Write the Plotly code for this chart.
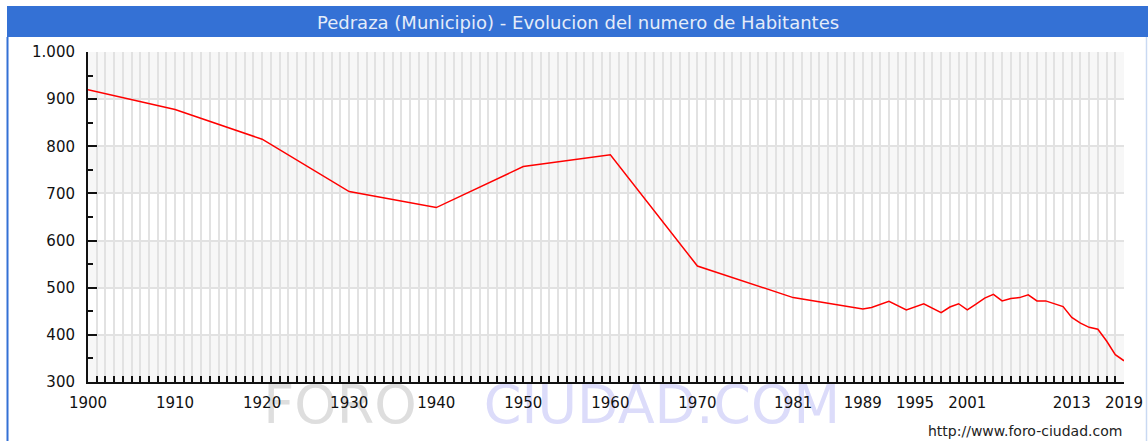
import plotly.graph_objects as go

# Datos
anios = [1900, 1910, 1920, 1930, 1940, 1950, 1960, 1970, 1981, 1986, 1989, 1990,
         1992, 1994, 1996, 1998, 1999, 2000, 2001, 2002, 2003, 2004, 2005, 2006,
         2007, 2008, 2009, 2010, 2011, 2012, 2013, 2014, 2015, 2016, 2017, 2018, 2019]
habitantes = [920, 878, 815, 704, 670, 757, 782, 546, 479, 464, 455, 458,
              471, 453, 466, 447, 459, 466, 453, 465, 478, 486, 472, 477,
              479, 485, 472, 472, 466, 460, 437, 425, 416, 412, 387, 358, 345]
etiquetas_x = [1900, 1910, 1920, 1930, 1940, 1950, 1960, 1970, 1981, 1989, 1995, 2001, 2013, 2019]

W, H = 1148, 441
ML, MR, MT, MB = 88, 24, 52, 59
AZUL = "#3471d5"
FUENTE = "DejaVu Sans, Verdana, sans-serif"


def px_x(p):
    return (p - ML) / (W - ML - MR)


def px_y(p):
    return (H - MB - p) / (H - MT - MB)


fig = go.Figure()
fig.add_trace(go.Scatter(
    x=anios, y=habitantes, mode="lines",
    line=dict(color="#ff0000", width=1.5),
    hoverinfo="x+y", showlegend=False
))

shapes = []
# bandas grises alternas del fondo
for y0 in range(300, 1000, 200):
    shapes.append(dict(type="rect", xref="paper", yref="y", x0=0, x1=1, y0=y0, y1=y0 + 100,
                       fillcolor="#f7f7f7", line=dict(width=0), layer="below"))
# marca de agua (debajo de las etiquetas)
for palabra, centro, ancho, color in [("FORO", 340, 220, "#dedede"),
                                      ("CIUDAD.COM", 662, 420, "#dcdcfa")]:
    shapes.append(dict(type="rect", xref="paper", yref="paper",
                       x0=px_x(centro - ancho / 2), x1=px_x(centro + ancho / 2),
                       y0=px_y(420), y1=px_y(380),
                       fillcolor="rgba(0,0,0,0)", line=dict(width=0), layer="below",
                       label=dict(text=palabra, textposition="middle center",
                                  font=dict(family=FUENTE, size=54, color=color))))
# barra de titulo y marco
shapes.append(dict(type="rect", xref="paper", yref="paper",
                   x0=px_x(7), x1=px_x(W), y0=px_y(37), y1=px_y(6),
                   fillcolor=AZUL, line=dict(width=0), layer="above"))
shapes.append(dict(type="line", xref="paper", yref="paper",
                   x0=px_x(7.5), x1=px_x(7.5), y0=px_y(37), y1=px_y(H),
                   line=dict(color=AZUL, width=2)))
shapes.append(dict(type="line", xref="paper", yref="paper",
                   x0=px_x(1146.5), x1=px_x(1146.5), y0=px_y(37), y1=px_y(H),
                   line=dict(color="#c9d9f2", width=1.5)))

fig.update_layout(
    width=W + 8, height=H, autosize=False,
    margin=dict(l=ML, r=MR + 8, t=MT, b=MB),
    paper_bgcolor="white", plot_bgcolor="white",
    separators=",.",
    shapes=shapes,
    font=dict(family=FUENTE, size=15, color="#111111"),
)

fig.update_xaxes(
    range=[1900, 2019],
    tickmode="array", tickvals=etiquetas_x, ticktext=[str(a) for a in etiquetas_x],
    ticks="inside", ticklen=6, tickwidth=2, tickcolor="#111111",
    showline=True, linecolor="#111111", linewidth=2,
    showgrid=True, gridcolor="#e2e2e2", gridwidth=2,
    minor=dict(tick0=1900, dtick=1, ticks="inside", ticklen=6, tickwidth=2,
               tickcolor="#111111", showgrid=True, gridcolor="#e2e2e2", gridwidth=2),
    ticklabelstandoff=6,
    zeroline=False,
)
fig.update_yaxes(
    range=[300, 1000], dtick=100, tick0=300, tickformat=",d",
    ticks="inside", ticklen=9, tickwidth=2, tickcolor="#111111",
    showline=True, linecolor="#111111", linewidth=2,
    showgrid=True, gridcolor="#e2e2e2", gridwidth=2,
    minor=dict(dtick=50, ticks="inside", ticklen=5, tickwidth=2,
               tickcolor="#111111", showgrid=False),
    ticklabelstandoff=8,
    zeroline=False,
)

anotaciones = [
    dict(text="Pedraza (Municipio) - Evolucion del numero de Habitantes",
         xref="paper", yref="paper", x=px_x(578), y=px_y(22),
         xanchor="center", yanchor="middle", showarrow=False,
         font=dict(family=FUENTE, size=18, color="#e4ecf9")),
    dict(text="http://www.foro-ciudad.com", xref="paper", yref="paper",
         x=px_x(1124), y=px_y(431), xanchor="right", yanchor="middle", showarrow=False,
         font=dict(family=FUENTE, size=14, color="#222222")),
]
fig.update_layout(annotations=anotaciones)

html = fig.to_html(
    config={"displayModeBar": False, "responsive": False},
)
html = html.replace("<head>", "<head><style>html,body{margin:0;padding:0;overflow:hidden;}</style>", 1)
with open("out.html", "w", encoding="utf-8") as f:
    f.write(html)
